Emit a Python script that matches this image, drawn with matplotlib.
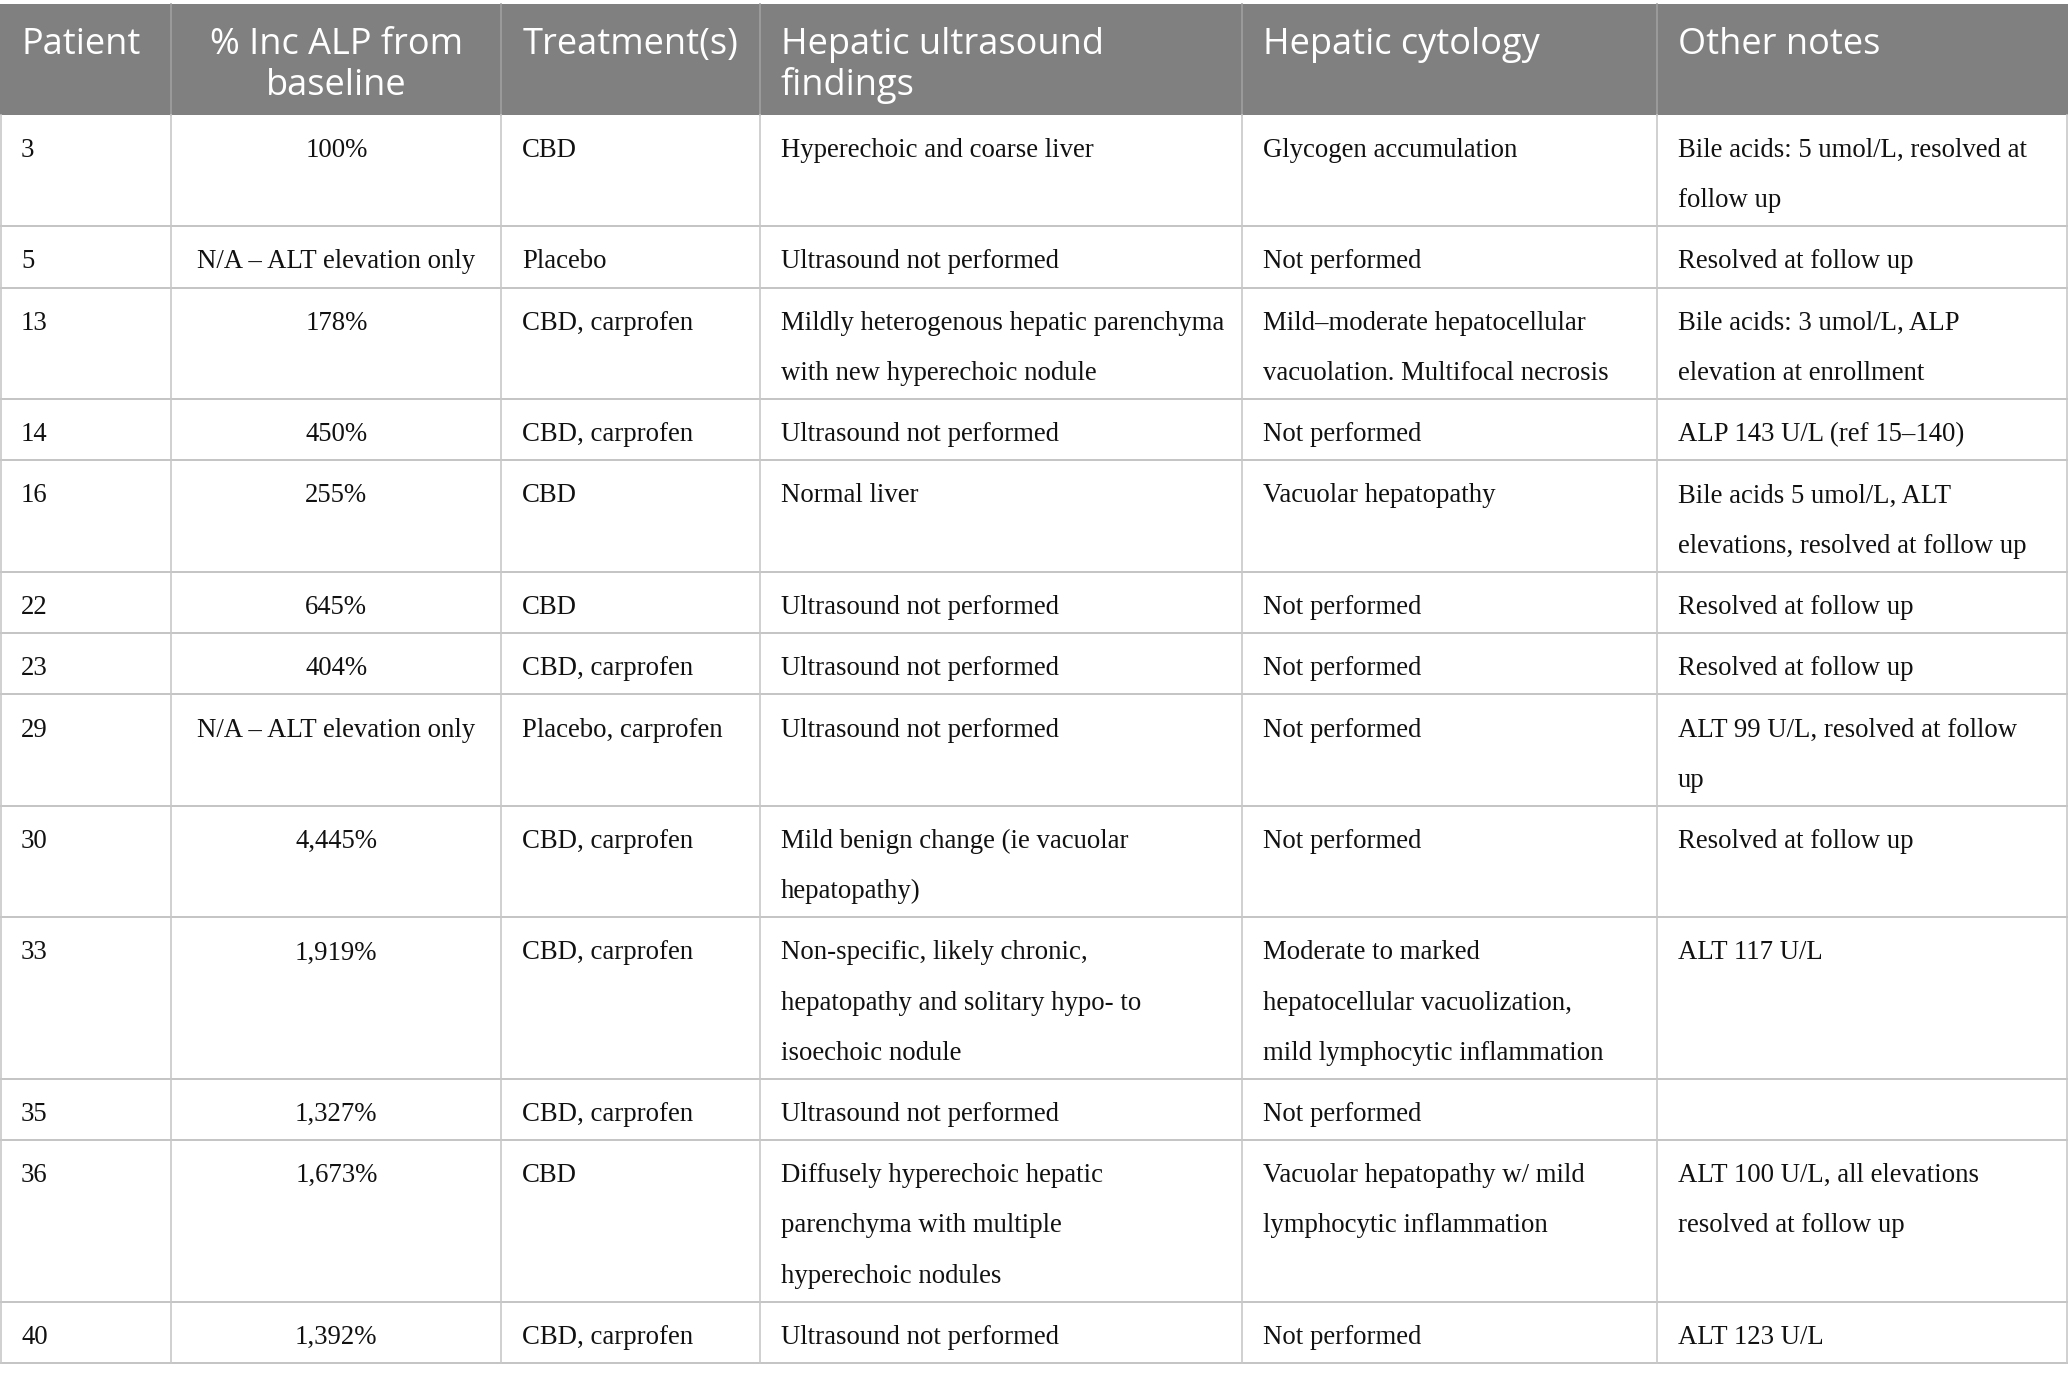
import matplotlib
matplotlib.use("Agg")
import matplotlib.pyplot as plt
from matplotlib.patches import Rectangle

# table content
headers = ["Patient", "% Inc ALP from\nbaseline", "Treatment(s)",
           "Hepatic ultrasound\nfindings", "Hepatic cytology", "Other notes"]

patients = ["3", "5", "13", "14", "16", "22", "23", "29", "30", "33", "35", "36", "40"]

alp_increase = ["100%", "N/A – ALT elevation only", "178%", "450%", "255%", "645%",
                "404%", "N/A – ALT elevation only", "4,445%", "1,919%", "1,327%",
                "1,673%", "1,392%"]

treatments = ["CBD", "Placebo", "CBD, carprofen", "CBD, carprofen", "CBD", "CBD",
              "CBD, carprofen", "Placebo, carprofen", "CBD, carprofen", "CBD, carprofen",
              "CBD, carprofen", "CBD", "CBD, carprofen"]

ultrasound = ["Hyperechoic and coarse liver",
              "Ultrasound not performed",
              "Mildly heterogenous hepatic parenchyma\nwith new hyperechoic nodule",
              "Ultrasound not performed",
              "Normal liver",
              "Ultrasound not performed",
              "Ultrasound not performed",
              "Ultrasound not performed",
              "Mild benign change (ie vacuolar\nhepatopathy)",
              "Non-specific, likely chronic,\nhepatopathy and solitary hypo- to\nisoechoic nodule",
              "Ultrasound not performed",
              "Diffusely hyperechoic hepatic\nparenchyma with multiple\nhyperechoic nodules",
              "Ultrasound not performed"]

cytology = ["Glycogen accumulation",
            "Not performed",
            "Mild–moderate hepatocellular\nvacuolation. Multifocal necrosis",
            "Not performed",
            "Vacuolar hepatopathy",
            "Not performed",
            "Not performed",
            "Not performed",
            "Not performed",
            "Moderate to marked\nhepatocellular vacuolization,\nmild lymphocytic inflammation",
            "Not performed",
            "Vacuolar hepatopathy w/ mild\nlymphocytic inflammation",
            "Not performed"]

notes = ["Bile acids: 5 umol/L, resolved at\nfollow up",
         "Resolved at follow up",
         "Bile acids: 3 umol/L, ALP\nelevation at enrollment",
         "ALP 143 U/L (ref 15–140)",
         "Bile acids 5 umol/L, ALT\nelevations, resolved at follow up",
         "Resolved at follow up",
         "Resolved at follow up",
         "ALT 99 U/L, resolved at follow\nup",
         "Resolved at follow up",
         "ALT 117 U/L",
         "",
         "ALT 100 U/L, all elevations\nresolved at follow up",
         "ALT 123 U/L"]

columns = [patients, alp_increase, treatments, ultrasound, cytology, notes]

# layout (in units of a 1568 x 1047 canvas)
W, H = 1568, 1047.1
col_x = [0, 130, 380, 576, 942, 1256, 1568]
align = ["left", "center", "left", "left", "left", "left"]
header_top, header_bot = 3, 87
line_h = 38
pad = 16

fig = plt.figure(figsize=(20.68, 13.81), dpi=100)
ax = fig.add_axes([0, 0, 1, 1])
ax.set_xlim(0, W)
ax.set_ylim(H, 0)
ax.axis("off")

# header
ax.add_patch(Rectangle((0, header_top), W, header_bot - header_top,
                       facecolor="#808080", edgecolor="none"))
for j, h in enumerate(headers):
    if align[j] == "center":
        x, ha = (col_x[j] + col_x[j + 1]) / 2, "center"
    else:
        x, ha = col_x[j] + pad, "left"
    for k, ln in enumerate(h.split("\n")):
        ax.text(x, header_top + 38 + k * 31, ln, ha=ha, va="baseline",
                color="white", fontsize=26, family="Open Sans")
for xv in col_x[1:-1]:
    ax.plot([xv, xv], [header_top, header_bot], color="#a0a0a0", lw=1.2)

# body rows
y = header_bot
row_lines = []
for i in range(len(patients)):
    n = max(len(col[i].split("\n")) for col in columns)
    rh = 8.5 + line_h * n
    for j, col in enumerate(columns):
        if align[j] == "center":
            x, ha = (col_x[j] + col_x[j + 1]) / 2, "center"
        else:
            x, ha = col_x[j] + pad, "left"
        for k, ln in enumerate(col[i].split("\n")):
            ax.text(x, y + 32 + k * line_h, ln, ha=ha, va="baseline",
                    color="#111111", fontsize=19.3, family="Liberation Serif")
    y += rh
    row_lines.append(y)

bottom = y
for yv in row_lines:
    ax.plot([0, W], [yv, yv], color="#c4c4c4", lw=1.4)
for xv in col_x:
    xx = min(max(xv, 0.6), W - 0.6)
    ax.plot([xx, xx], [header_bot, bottom], color="#c8c8c8", lw=1.2)

fig.savefig("out.png", dpi=100)
